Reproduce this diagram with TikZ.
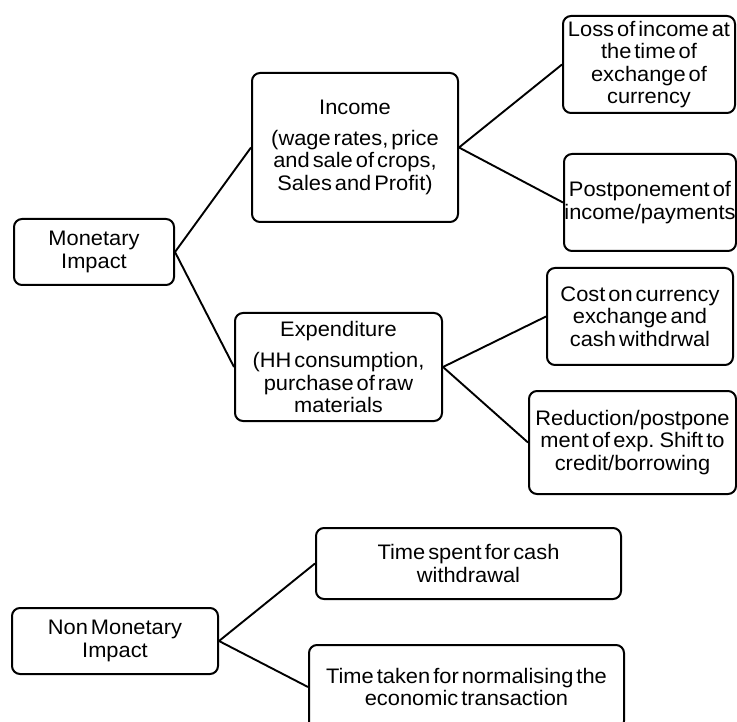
\documentclass[tikz,border=0pt]{standalone}
\usepackage{fontspec}
\setmainfont{Liberation Sans}[FakeStretch=1.04, WordSpace=0.5]
\begin{document}
\begin{tikzpicture}[x=1pt, y=-1pt]
\tikzset{
  box/.style={draw, line width=2pt, rounded corners=8pt, align=center,
    inner sep=0pt, font=\fontsize{21}{22.5}\selectfont},
  conn/.style={line width=1.9pt}
}
\useasboundingbox (0,0) rectangle (737,722);
\node[box, minimum width=160pt, minimum height=66pt] (mon) at (94,252) {Monetary\\Impact};
\node[box, minimum width=206pt, minimum height=149pt] (inc) at (355,147.5) {Income\\[8pt](wage rates, price\\and sale of crops,\\Sales and Profit)};
\node[box, minimum width=172pt, minimum height=97pt] (loss) at (649,64.5) {Loss of income at\\the time of\\exchange of\\currency};
\node[box, minimum width=172pt, minimum height=97pt] (post) at (650,202.5) {Postponement of\\income/payments};
\node[box, minimum width=207pt, minimum height=108pt] (exp) at (338.5,367) {Expenditure\\[9pt](HH consumption,\\purchase of raw\\materials};
\node[box, minimum width=186pt, minimum height=97pt] (cost) at (640,316.5) {Cost on currency\\exchange and\\cash withdrwal};
\node[box, minimum width=207pt, minimum height=103pt] (red) at (632.5,442.5) {Reduction/postpone\\ment of exp. Shift to\\credit/borrowing};
\node[box, minimum width=206pt, minimum height=66pt] (nmon) at (115,641) {Non Monetary\\Impact};
\node[box, minimum width=305pt, minimum height=71pt] (tspent) at (468.5,563.5) {Time spent for cash\\withdrawal};
\node[box, minimum width=315pt, minimum height=84pt] (ttaken) at (466.5,687) {Time taken for normalising the\\economic transaction};
\draw[conn] (mon.east) -- (inc.west);
\draw[conn] (mon.east) -- (exp.west);
\draw[conn] (inc.east) -- (loss.west);
\draw[conn] (inc.east) -- (post.west);
\draw[conn] (exp.east) -- (cost.west);
\draw[conn] (exp.east) -- (red.west);
\draw[conn] (nmon.east) -- (tspent.west);
\draw[conn] (nmon.east) -- (ttaken.west);
\end{tikzpicture}
\end{document}
